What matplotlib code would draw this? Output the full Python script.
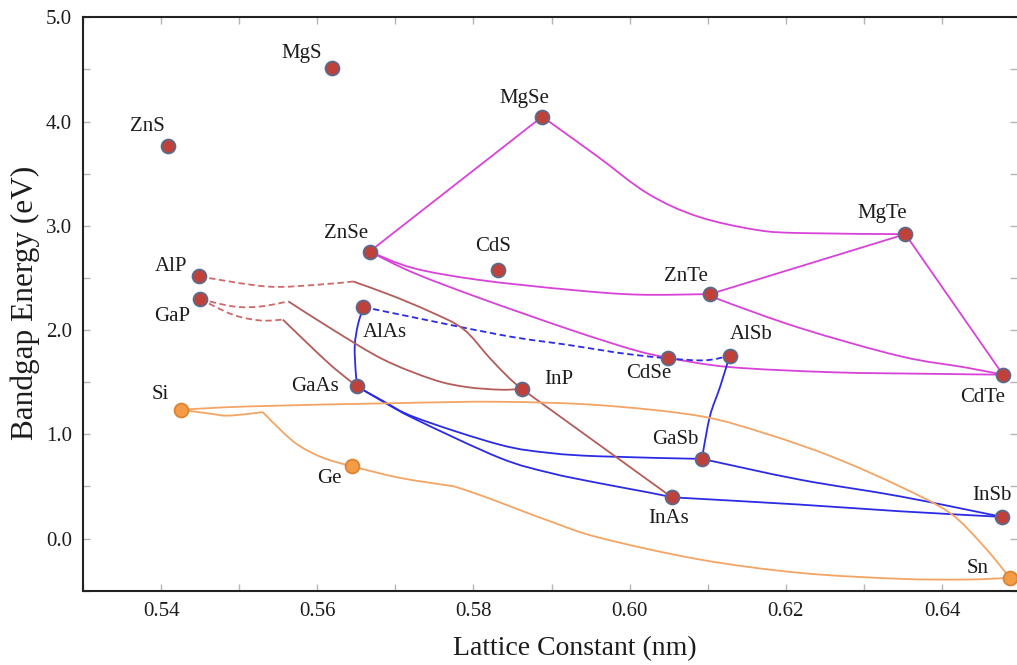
import numpy as np
import matplotlib.pyplot as plt
from matplotlib.path import Path
from matplotlib.patches import PathPatch
from matplotlib.ticker import MultipleLocator, FormatStrFormatter

plt.rcParams['font.family'] = ['Liberation Serif', 'DejaVu Serif']

# --- DATA: binary compounds / elements (lattice constant nm, bandgap eV) ---
names = ["ZnS", "MgS", "MgSe", "ZnSe", "CdS", "MgTe", "ZnTe", "CdTe", "CdSe",
         "AlSb", "AlP", "GaP", "AlAs", "GaAs", "InP", "InAs", "GaSb", "InSb",
         "Si", "Ge", "Sn"]
lattice = [0.5409, 0.5619, 0.5888, 0.5667, 0.5831, 0.6353, 0.6103, 0.6478, 0.6049,
           0.6128, 0.5449, 0.5450, 0.5659, 0.5651, 0.5862, 0.6054, 0.6093, 0.6477,
           0.5425, 0.5644, 0.6487]
bandgap = [3.769, 4.511, 4.047, 2.753, 2.578, 2.920, 2.345, 1.572, 1.732,
           1.754, 2.514, 2.297, 2.221, 1.460, 1.435, 0.396, 0.764, 0.208,
           1.236, 0.693, -0.377]
group_iv = ["Si", "Ge", "Sn"]

# direct/indirect crossover kinks on some alloy lines
kink_names = ["k1", "k2", "k3", "k4", "k5"]
kink_lattice = [0.5646, 0.5563, 0.5556, 0.5530, 0.5775]
kink_gap = [2.466, 2.275, 2.100, 1.214, 0.501]

# alloy lines: from, to, lattice, gap, family, dashed
curves = [
    ("ZnSe", "MgSe", [], [], "II-VI", False),
    ("MgSe", "MgTe", [0.5958, 0.6023, 0.6087, 0.6163, 0.6222], [3.67, 3.31, 3.09, 2.96, 2.93], "II-VI", False),
    ("ZnSe", "ZnTe", [0.5723, 0.5808, 0.5924, 0.6010], [2.594, 2.48, 2.386, 2.34], "II-VI", False),
    ("ZnSe", "CdSe", [0.5723, 0.5808, 0.5924, 0.6005], [2.55, 2.307, 2.003, 1.81], "II-VI", False),
    ("CdSe", "CdTe", [0.6128, 0.6261, 0.6389], [1.645, 1.595, 1.58], "II-VI", False),
    ("ZnTe", "CdTe", [0.6116, 0.6218, 0.6346, 0.6431], [2.29, 2.02, 1.75, 1.64], "II-VI", False),
    ("ZnTe", "MgTe", [], [], "II-VI", False),
    ("MgTe", "CdTe", [], [], "II-VI", False),
    ("AlAs", "GaAs", [0.5652, 0.5648, 0.5649], [2.05, 1.85, 1.62], "III-V", False),
    ("AlSb", "GaSb", [0.6116, 0.6103, 0.6094], [1.46, 1.18, 0.83], "III-V", False),
    ("GaAs", "GaSb", [0.5685, 0.5727, 0.5834, 0.5898, 0.5962], [1.316, 1.157, 0.90, 0.821, 0.789], "III-V", False),
    ("GaAs", "InAs", [0.5685, 0.5727, 0.5834, 0.5898, 0.5962, 0.6026], [1.31, 1.14, 0.773, 0.63, 0.53, 0.44], "III-V", False),
    ("InAs", "InSb", [0.6218, 0.6346], [0.326, 0.262], "III-V", False),
    ("GaSb", "InSb", [0.6218, 0.6346], [0.565, 0.405], "III-V", False),
    ("AlAs", "AlSb", [0.5834, 0.5919, 0.6005, 0.6090], [1.955, 1.86, 1.763, 1.709], "III-V", True),
    ("AlP", "k1", [0.5535, 0.5599], [2.418, 2.434], "P", True),
    ("k1", "InP", [0.5693, 0.5744, 0.5787, 0.5821, 0.5847], [2.338, 2.178, 2.01, 1.73, 1.53], "P", False),
    ("GaP", "k2", [0.5493, 0.5527], [2.226, 2.226], "P", True),
    ("k2", "InP", [0.5620, 0.5685, 0.5749, 0.5791, 0.5834], [2.003, 1.716, 1.524, 1.454, 1.428], "P", False),
    ("GaP", "k3", [0.5492, 0.5527], [2.147, 2.092], "P", True),
    ("k3", "GaAs", [0.5599, 0.5624], [1.79, 1.62], "P", False),
    ("InP", "InAs", [], [], "P", False),
    ("Si", "k4", [0.5463, 0.5484, 0.5514], [1.198, 1.179, 1.198], "IV", False),
    ("k4", "Ge", [0.5557, 0.5578, 0.5608], [1.013, 0.885, 0.773], "IV", False),
    ("Ge", "k5", [0.5706], [0.582], "IV", False),
    ("k5", "Sn", [0.5813, 0.5898, 0.5962, 0.6090, 0.6218, 0.6346, 0.6431],
     [0.405, 0.166, 0.007, -0.201, -0.329, -0.386, -0.393], "IV", False),
    ("Si", "Sn", [0.5514, 0.5706, 0.5834, 0.5962, 0.6090, 0.6175, 0.6261, 0.6346, 0.6410, 0.6453],
     [1.268, 1.30, 1.312, 1.279, 1.175, 1.005, 0.78, 0.50, 0.246, -0.07], "IV", False),
]

# --- STYLE ---
line_colors = {"II-VI": "#d942d9", "III-V": "#2b2be6", "P": "#b35c5a", "IV": "#f4a464"}
dashed_colors = {"III-V": "#2b2be6", "P": "#d06868"}

# label offsets in points (dx, dy)
label_offsets = {
    "MgS": (-21.6, 10.8), "ZnS": (-15.1, 13.7), "AlP": (-20.2, 7.2), "GaP": (-20.2, -12.2),
    "ZnSe": (-16.6, 13.0), "CdS": (-3.2, 16.6), "MgSe": (-13.0, 13.0), "MgTe": (-16.6, 15.1),
    "ZnTe": (-17.3, 13.0), "AlAs": (15.8, -18.7), "GaAs": (-30.2, 0.0), "Si": (-14.4, 10.8),
    "Ge": (-15.8, -8.6), "InP": (26.6, 6.5), "CdSe": (-13.7, -11.5), "AlSb": (15.8, 15.1),
    "CdTe": (-14.4, -16.6), "GaSb": (-19.4, 13.7), "InAs": (-2.2, -15.1), "InSb": (-7.2, 15.1),
    "Sn": (-23.0, 6.5),
}


def smooth_path(points):
    # Catmull-Rom through the read points, drawn as cubic Bezier by matplotlib
    p = np.asarray(points, dtype=float)
    if len(p) == 2:
        return Path(p)
    verts = [p[0]]
    codes = [Path.MOVETO]
    n = len(p)
    for i in range(n - 1):
        p0 = p[max(i - 1, 0)]
        p1 = p[i]
        p2 = p[i + 1]
        p3 = p[min(i + 2, n - 1)]
        verts += [p1 + (p2 - p0) / 6.0, p2 - (p3 - p1) / 6.0, p2]
        codes += [Path.CURVE4] * 3
    return Path(verts, codes)


fig = plt.figure(figsize=(10.17, 6.65), dpi=100)
ax = fig.add_axes([83 / 1017, 1 - 590.7 / 665, (1017 - 83) / 1017, (590.7 - 17.3) / 665])

nodes = dict(zip(names + kink_names, zip(lattice + kink_lattice, bandgap + kink_gap)))

for start, end, via_a, via_e, fam, dashed in curves:
    pts = [nodes[start]] + list(zip(via_a, via_e)) + [nodes[end]]
    color = dashed_colors[fam] if dashed else line_colors[fam]
    patch = PathPatch(smooth_path(pts), fill=False, edgecolor=color, lw=1.3,
                      linestyle=(0, (3.5, 2)) if dashed else '-', zorder=2,
                      capstyle='butt')
    ax.add_patch(patch)

for name, a, e in zip(names, lattice, bandgap):
    if name in group_iv:
        fc, ec = "#f59a45", "#d98535"
    else:
        fc, ec = "#c0403a", "#5b6b8c"
    ax.plot(a, e, 'o', ms=10, mfc=fc, mec=ec, mew=1.3, zorder=4, clip_on=False)
    dx, dy = label_offsets[name]
    ax.annotate(name, (a, e), xytext=(dx, dy), textcoords='offset points',
                ha='center', va='center', fontsize=15, color='#1c1c1c', zorder=5)

ax.set_xlim(0.5300, 0.6496)
ax.set_ylim(-0.5, 5.0)
ax.xaxis.set_major_locator(MultipleLocator(0.02))
ax.xaxis.set_minor_locator(MultipleLocator(0.01))
ax.yaxis.set_major_locator(MultipleLocator(1.0))
ax.yaxis.set_minor_locator(MultipleLocator(0.5))
ax.xaxis.set_major_formatter(FormatStrFormatter('%.2f'))
ax.yaxis.set_major_formatter(FormatStrFormatter('%.1f'))
ax.tick_params(which='both', direction='in', length=5, width=1, color='#b5b5b5',
               top=True, right=True, labelsize=15, labelcolor='#1c1c1c', pad=8)

for side in ['left', 'bottom', 'top']:
    ax.spines[side].set_color('#222222')
    ax.spines[side].set_linewidth(1.5)
ax.spines['right'].set_visible(False)

fig.text(575 / 1017, 1 - 649 / 665, "Lattice Constant (nm)", ha='center', va='center',
         fontsize=20, color='#1c1c1c')
fig.text(25 / 1017, 1 - 303 / 665, "Bandgap Energy (eV)", ha='center', va='center',
         rotation=90, fontsize=22.5, color='#1c1c1c')

fig.savefig("out.png", dpi=100)
